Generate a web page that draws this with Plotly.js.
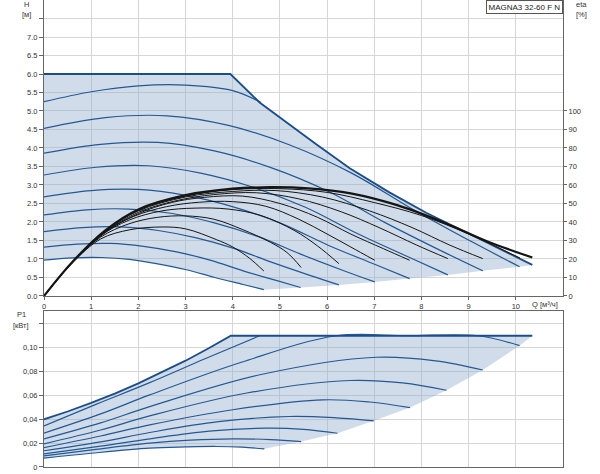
<!DOCTYPE html>
<html><head><meta charset="utf-8">
<script src="https://cdn.plot.ly/plotly-3.0.1.min.js"></script>
<style>html,body{margin:0;padding:0;background:#fff}#chart{width:600px;height:474px}</style>
</head><body><div id="chart"></div>
<script>
// ---------- H (head) curves, Q in m3/h, H in m ----------
const Q_ENV = [0, 3.95, 4.57, 5.21, 5.77, 6.48, 7.32, 8.1, 8.6, 9.3, 10.35];
const H_ENV = [6.0, 6.0, 5.23, 4.62, 4.1, 3.45, 2.8, 2.25, 1.93, 1.5, 0.84];
const Q_S1 = [0, 1, 2, 3, 4, 4.6];
const H_S1 = [5.25, 5.52, 5.68, 5.70, 5.55, 5.23];
const Q_S2 = [0, 1.30, 2.61, 3.91, 5.21, 6.52, 7.82, 9.12, 10.08];
const H_S2 = [4.53, 4.82, 4.87, 4.61, 4.08, 3.32, 2.34, 1.43, 0.79];
const Q_S3 = [0, 1.20, 2.41, 3.61, 4.81, 6.02, 7.22, 8.42, 9.30];
const H_S3 = [3.86, 4.10, 4.15, 3.92, 3.47, 2.83, 1.99, 1.22, 0.68];
const Q_S4 = [0, 1.11, 2.21, 3.32, 4.43, 5.54, 6.64, 7.75, 8.56];
const H_S4 = [3.27, 3.48, 3.52, 3.32, 2.94, 2.40, 1.69, 1.04, 0.57];
const Q_S5 = [0, 1.00, 2.00, 3.01, 4.01, 5.01, 6.01, 7.02, 7.75];
const H_S5 = [2.68, 2.85, 2.88, 2.72, 2.41, 1.97, 1.38, 0.85, 0.47];
const Q_S6 = [0, 0.91, 1.81, 2.72, 3.63, 4.53, 5.44, 6.34, 7.01];
const H_S6 = [2.19, 2.33, 2.35, 2.23, 1.97, 1.61, 1.13, 0.69, 0.38];
const Q_S7 = [0, 0.81, 1.62, 2.42, 3.23, 4.04, 4.85, 5.65, 6.25];
const H_S7 = [1.74, 1.85, 1.87, 1.77, 1.57, 1.28, 0.90, 0.55, 0.30];
const Q_S8 = [0, 0.70, 1.41, 2.11, 2.81, 3.52, 4.22, 4.92, 5.44];
const H_S8 = [1.32, 1.40, 1.42, 1.34, 1.19, 0.97, 0.68, 0.42, 0.23];
const Q_S9 = [0, 0.60, 1.21, 1.81, 2.41, 3.02, 3.62, 4.22, 4.66];
const H_S9 = [0.97, 1.03, 1.04, 0.99, 0.87, 0.71, 0.50, 0.31, 0.17];

// ---------- eta (efficiency, %) curves ----------
const Q_E0 = [0, 0.6, 1.3, 2.0, 3.0, 4.0, 4.8, 5.6, 6.5, 7.5, 8.5, 9.4, 10.35];
const ETA_E0 = [0, 18.4, 35.5, 46.8, 54.5, 58, 58.8, 58.2, 55.5, 49, 39.5, 29.5, 20.8];
const Q_E1 = [0, 0.6, 1.3, 2.0, 3.0, 4.0, 4.6];
const ETA_E1 = [0, 18.3, 35.3, 46.6, 54.3, 57.8, 58.5];
const Q_E2 = [0, 0.6, 1.3, 2.0, 3.0, 4.0, 5.0, 6.0, 7.0, 8.0, 9.0, 10.09];
const ETA_E2 = [0, 18.3, 35.2, 46.5, 54, 57.5, 58, 56, 50.5, 43.5, 33.5, 20.5];
const Q_E3 = [0, 0.6, 1.3, 2.0, 3.0, 4.0, 4.9, 5.9, 6.9, 7.8, 8.6, 9.3];
const ETA_E3 = [0, 18.3, 35, 46, 53.5, 56.5, 57, 53.5, 46, 37, 27.5, 20.2];
const Q_E4 = [0, 0.6, 1.3, 2.0, 2.8, 3.6, 4.5, 5.4, 6.3, 7.1, 7.9, 8.56];
const ETA_E4 = [0, 18.2, 34.7, 45.2, 51.5, 54.8, 55.8, 52.5, 45.5, 37, 27.5, 20.2];
const Q_E5 = [0, 0.6, 1.3, 2.0, 2.7, 3.4, 4.2, 5.0, 5.8, 6.5, 7.2, 7.75];
const ETA_E5 = [0, 18.2, 34.4, 44.5, 50.5, 53.3, 54, 50, 42.5, 33.5, 25.5, 19.3];
const Q_E6 = [0, 0.6, 1.2, 1.9, 2.6, 3.3, 4.0, 4.7, 5.4, 6.0, 6.5, 7.01];
const ETA_E6 = [0, 18.2, 33.2, 43, 48.3, 50.7, 51, 48.5, 41.5, 33.5, 26.5, 19.3];
const Q_E7 = [0, 0.6, 1.2, 1.8, 2.5, 3.2, 3.9, 4.6, 5.3, 5.8, 6.25];
const ETA_E7 = [0, 18.1, 32.5, 41, 46, 47.5, 47, 43.5, 35.5, 27, 17.5];
const Q_E8 = [0, 0.6, 1.2, 1.8, 2.4, 3.0, 3.6, 4.2, 4.8, 5.15, 5.45];
const ETA_E8 = [0, 18, 31.8, 39, 42.5, 43.3, 41.5, 36, 29, 23.5, 15.4];
const Q_E9 = [0, 0.6, 1.2, 1.82, 2.5, 3.0, 3.65, 4.0, 4.35, 4.66];
const ETA_E9 = [0, 17.8, 30.8, 35.8, 37.3, 36.3, 30.5, 26.5, 20.5, 13.5];

// ---------- P1 (kW) curves ----------
const Q_P0 = [0, 0.5, 1, 1.5, 2, 2.5, 3, 3.5, 3.96, 10.35];
const P_P0 = [0.040, 0.0465, 0.0537, 0.0615, 0.0701, 0.0793, 0.0891, 0.0997, 0.110, 0.110];
const Q_P1 = [0, 1.1, 2.24, 3.4, 4.57];
const P_P1 = [0.0345, 0.0525, 0.0707, 0.0905, 0.110];
const Q_P2 = [0, 1.2, 2.24, 4.2, 6.2, 7.7, 9.2, 10.08];
const P_P2 = [0.0284, 0.0445, 0.0604, 0.088, 0.110, 0.110, 0.110, 0.1017];
const Q_P3 = [0, 1.2, 2.24, 4.6, 7.04, 8.3, 9.3];
const P_P3 = [0.0236, 0.037, 0.0506, 0.0775, 0.092, 0.089, 0.0813];
const Q_P4 = [0, 1.2, 2.24, 4.3, 6.48, 7.6, 8.53];
const P_P4 = [0.0194, 0.031, 0.0428, 0.062, 0.0725, 0.0705, 0.0643];
const Q_P5 = [0, 1.2, 2.24, 4.0, 5.91, 6.9, 7.76];
const P_P5 = [0.0163, 0.026, 0.0353, 0.048, 0.0563, 0.0545, 0.0498];
const Q_P6 = [0, 1.2, 2.24, 3.7, 5.2, 6.2, 6.99];
const P_P6 = [0.0136, 0.021, 0.0289, 0.038, 0.0423, 0.0412, 0.0387];
const Q_P7 = [0, 1.2, 2.24, 3.5, 4.71, 5.5, 6.22];
const P_P7 = [0.011, 0.0175, 0.0236, 0.030, 0.0326, 0.0316, 0.0283];
const Q_P8 = [0, 1.1, 2.24, 3.1, 4.0, 4.8, 5.45];
const P_P8 = [0.0094, 0.0148, 0.020, 0.0225, 0.0236, 0.023, 0.0213];
const Q_P9 = [0, 1.0, 2.24, 3.0, 3.65, 4.2, 4.67];
const P_P9 = [0.0074, 0.0115, 0.0158, 0.0168, 0.0172, 0.0166, 0.0152];

// ---------- ticks / labels ----------
const X_TICKS = [0,1,2,3,4,5,6,7,8,9,10];
const H_TICKS = [0,0.5,1,1.5,2,2.5,3,3.5,4,4.5,5,5.5,6,6.5,7,7.5];
const H_LABELS = ['0.0','0.5','1.0','1.5','2.0','2.5','3.0','3.5','4.0','4.5','5.0','5.5','6.0','6.5','7.0',''];
const ETA_TICKS = [0,10,20,30,40,50,60,70,80,90,100];
const P_TICKS = [0,0.02,0.04,0.06,0.08,0.10,0.12];
const P_LABELS = ['0','0,02','0,04','0,06','0,08','0,10',''];
const TITLE_TEXT = 'MAGNA3 32-60 F N';

// ---------- styling ----------
const BLUE = '#245894', BLUE_D = '#1c4d86', FILL = 'rgba(150,178,207,0.45)', BLACK = '#151515';
const GRID = '#d6d6d6', AXL = '#666', TXT = '#333';
const FONT = 'Liberation Sans, Arial, sans-serif';
const last = a => a[a.length-1];

function ln(q, v, xa, ya, color, w, shape) {
  return {x:q, y:v, xaxis:xa, yaxis:ya, mode:'lines', hoverinfo:'skip', showlegend:false,
          line:{color:color, width:w, shape:shape||'spline', smoothing:1}};
}
function fillTrace(qTop, vTop, curves, xa, ya) {
  const lowQ = curves.map(c => last(c[0])), lowV = curves.map(c => last(c[1]));
  const low = curves[curves.length-1];
  const x = qTop.concat(lowQ, low[0].slice().reverse());
  const y = vTop.concat(lowV, low[1].slice().reverse());
  return {x:x, y:y, xaxis:xa, yaxis:ya, mode:'none', fill:'toself', fillcolor:FILL, hoverinfo:'skip', showlegend:false};
}

const H_CURVES = [[Q_S1,H_S1],[Q_S2,H_S2],[Q_S3,H_S3],[Q_S4,H_S4],[Q_S5,H_S5],[Q_S6,H_S6],[Q_S7,H_S7],[Q_S8,H_S8],[Q_S9,H_S9]];
const E_CURVES = [[Q_E1,ETA_E1],[Q_E2,ETA_E2],[Q_E3,ETA_E3],[Q_E4,ETA_E4],[Q_E5,ETA_E5],[Q_E6,ETA_E6],[Q_E7,ETA_E7],[Q_E8,ETA_E8],[Q_E9,ETA_E9]];
const P_CURVES = [[Q_P1,P_P1],[Q_P2,P_P2],[Q_P3,P_P3],[Q_P4,P_P4],[Q_P5,P_P5],[Q_P6,P_P6],[Q_P7,P_P7],[Q_P8,P_P8],[Q_P9,P_P9]];

const traces = [];
traces.push(fillTrace(Q_ENV, H_ENV, H_CURVES.slice(1), 'x', 'y'));
traces.push(fillTrace(Q_P0, P_P0, P_CURVES.slice(1), 'x2', 'y3'));
H_CURVES.forEach(c => traces.push(ln(c[0], c[1], 'x', 'y', BLUE, 1.2)));
traces.push(ln(Q_ENV, H_ENV, 'x', 'y', BLUE_D, 1.8, 'linear'));
E_CURVES.forEach(c => traces.push(ln(c[0], c[1], 'x', 'y2', BLACK, 1)));
traces.push(ln(Q_E0, ETA_E0, 'x', 'y2', BLACK, 2.2));
P_CURVES.forEach(c => traces.push(ln(c[0], c[1], 'x2', 'y3', BLUE, 1.2)));
traces.push(ln(Q_P0, P_P0, 'x2', 'y3', BLUE_D, 1.8, 'linear'));

const tf = {family:FONT, size:7.5, color:TXT};
const common = {showgrid:true, gridcolor:GRID, gridwidth:1, zeroline:false, showline:true, linecolor:AXL, linewidth:1, mirror:true, tickfont:tf};

const layout = {
  width:600, height:474, paper_bgcolor:'#fff', plot_bgcolor:'#fff',
  margin:{l:44, r:37, t:0, b:7}, showlegend:false, font:{family:FONT, size:7.5, color:TXT},
  xaxis: Object.assign({}, common, {domain:[0,1], anchor:'y', range:[0,11], tickmode:'array', tickvals:X_TICKS,
          ticktext:X_TICKS.map(String), ticks:'outside', ticklen:3, tickcolor:AXL}),
  yaxis: Object.assign({}, common, {domain:[0.3662,1], anchor:'x', range:[0,8], tickmode:'array', tickvals:H_TICKS,
          ticktext:H_LABELS, ticks:'outside', ticklen:4, tickcolor:AXL}),
  yaxis2: {overlaying:'y', side:'right', anchor:'x', range:[0,160], tickmode:'array', tickvals:ETA_TICKS,
          ticktext:ETA_TICKS.map(String), showgrid:false, zeroline:false, showline:true, linecolor:AXL,
          ticks:'outside', ticklen:3, tickcolor:AXL, tickfont:tf},
  xaxis2: Object.assign({}, common, {domain:[0,1], anchor:'y3', range:[0,11], dtick:1, tick0:0, showticklabels:false}),
  yaxis3: Object.assign({}, common, {domain:[0,0.3347], anchor:'x2', range:[0,0.131], tickmode:'array', tickvals:P_TICKS,
          ticktext:P_LABELS, ticks:'outside', ticklen:4, tickcolor:AXL}),
  annotations: [
    {text:TITLE_TEXT, xref:'paper', yref:'paper', x:1, y:1, xanchor:'right', yanchor:'top', showarrow:false,
     bgcolor:'#fff', bordercolor:'#555', borderwidth:1, borderpad:1.5, font:{family:FONT, size:8, color:'#222'}},
    {text:'H', xref:'paper', yref:'paper', x:-0.033, y:0.9914, showarrow:false, xanchor:'center', yanchor:'middle'},
    {text:'[м]', xref:'paper', yref:'paper', x:-0.033, y:0.968, showarrow:false, xanchor:'center', yanchor:'middle'},
    {text:'eta', xref:'paper', yref:'paper', x:1.0347, y:0.9905, showarrow:false, xanchor:'center', yanchor:'middle'},
    {text:'[%]', xref:'paper', yref:'paper', x:1.0347, y:0.968, showarrow:false, xanchor:'center', yanchor:'middle'},
    {text:'P1', xref:'paper', yref:'paper', x:-0.0424, y:0.3276, showarrow:false, xanchor:'center', yanchor:'middle'},
    {text:'[кВт]', xref:'paper', yref:'paper', x:-0.0443, y:0.304, showarrow:false, xanchor:'center', yanchor:'middle'},
    {text:'Q [м³/ч]', xref:'paper', yref:'paper', x:0.966, y:0.349, showarrow:false, xanchor:'center', yanchor:'middle'}
  ]
};

Plotly.newPlot('chart', traces, layout, {staticPlot:true, displayModeBar:false});
</script>
</body></html>
